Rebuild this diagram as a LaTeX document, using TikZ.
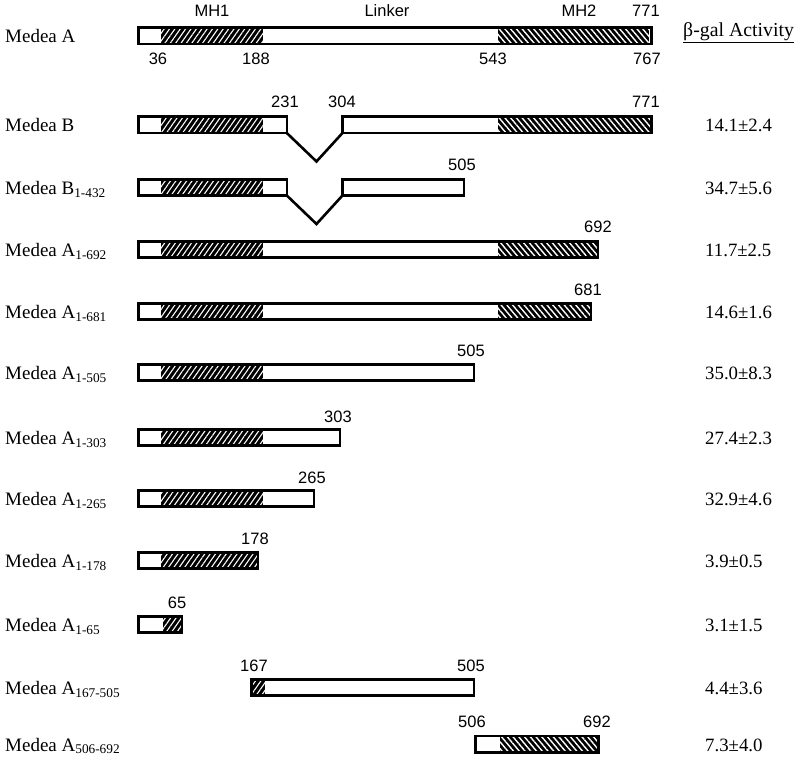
\documentclass[tikz,border=0pt]{standalone}
\usepackage{fontspec}
\setmainfont{Liberation Serif}
\newfontfamily\helv{Liberation Sans}
\usetikzlibrary{patterns.meta}
\newcommand\hatchA[3]{\fill[black] (#2,#1-8.2) rectangle (#3,#1+8.2); \fill[mhA] (#2,#1-8.2) rectangle (#3,#1+8.2);}
\newcommand\hatchB[3]{\fill[black] (#2,#1-8.2) rectangle (#3,#1+8.2); \fill[mhB] (#2,#1-8.2) rectangle (#3,#1+8.2);}
\newcommand\boxout[3]{\draw[outl] (#2,#1-8.2) rectangle (#3,#1+8.2);}
\begin{document}
\begin{tikzpicture}[x=1pt,y=-1pt,
  outl/.style={line width=2.6pt,line join=miter},
  vline/.style={line width=2.6pt,line join=miter},
  mhA/.style={pattern={Lines[angle=55,distance=4.4pt,line width=1.1pt]},pattern color=white},
  mhB/.style={pattern={Lines[angle=-50,distance=4.4pt,line width=1.4pt]},pattern color=white},
  lab/.style={anchor=base west,inner sep=0pt,font=\fontsize{19}{21}\selectfont},
  val/.style={anchor=base west,inner sep=0pt,font=\fontsize{18.8}{21}\selectfont},
  num/.style={anchor=base,inner sep=0pt,font=\helv\fontsize{16.5}{18}\selectfont}]
\useasboundingbox[fill=white] (0,0) rectangle (800,762);

% ---- Medea A (row 36)
\hatchA{36}{161}{263}
\hatchB{36}{498}{651.7}
\draw[white,line width=1pt] (649,36-7) -- (649,36+7);
\boxout{36}{138.3}{651.7}
\node[lab] (lA) at (5,43) {Medea A};
\node[num] (tMH1) at (212,17) {MH1};
\node[num] (tLink) at (387,17) {Linker};
\node[num] (tMH2) at (579,17) {MH2};
\node[num] (n771a) at (646,17) {771};
\node[num] (n36) at (158,65) {36};
\node[num] (n188) at (256,65) {188};
\node[num] (n543) at (493,65) {543};
\node[num] (n767) at (647,65) {767};
\node[anchor=base west,inner sep=0pt,font=\fontsize{19.8}{21}\selectfont] (bgal) at (683,37) {\underline{β-gal Activity}};

% ---- Medea B (row 125)
\hatchA{125}{161}{263}
\boxout{125}{138.3}{287}
\hatchB{125}{498}{651.7}
\boxout{125}{342.3}{651.7}
\coordinate (vB1) at (287,133.2);
\coordinate (vB2) at (316.5,161.5);
\coordinate (vB3) at (342.3,133.2);
\draw[vline] (vB1) -- (vB2) -- (vB3);
\node[lab] (lB) at (5,132) {Medea B};
\node[num] (n231) at (285,108) {231};
\node[num] (n304) at (342,108) {304};
\node[num] (n771b) at (646,108) {771};
\node[val] (vB) at (705,132) {14.1±2.4};

% ---- Medea B1-432 (row 187.5)
\hatchA{187.5}{161}{263}
\boxout{187.5}{138.3}{287}
\boxout{187.5}{342.3}{464}
\coordinate (vC1) at (287,195.7);
\coordinate (vC2) at (316.5,224);
\coordinate (vC3) at (342.3,195.7);
\draw[vline] (vC1) -- (vC2) -- (vC3);
\node[lab] (lC) at (5,194.5) {Medea B\textsubscript{1-432}};
\node[num] (n505c) at (462,171) {505};
\node[val] (vC) at (705,194.5) {34.7±5.6};

% ---- Medea A1-692 (row 249.5)
\hatchA{249.5}{161}{263}
\hatchB{249.5}{498}{598}
\boxout{249.5}{138.3}{598}
\node[lab] (lD) at (5,256.5) {Medea A\textsubscript{1-692}};
\node[num] (n692d) at (598,233) {692};
\node[val] (vD) at (705,256.5) {11.7±2.5};

% ---- Medea A1-681 (row 311.5)
\hatchA{311.5}{161}{263}
\hatchB{311.5}{498}{591}
\boxout{311.5}{138.3}{591}
\node[lab] (lE) at (5,318.5) {Medea A\textsubscript{1-681}};
\node[num] (n681) at (588,295) {681};
\node[val] (vE) at (705,318.5) {14.6±1.6};

% ---- Medea A1-505 (row 372.5)
\hatchA{372.5}{161}{263}
\boxout{372.5}{138.3}{474}
\node[lab] (lF) at (5,379.5) {Medea A\textsubscript{1-505}};
\node[num] (n505f) at (471,356) {505};
\node[val] (vF) at (705,379.5) {35.0±8.3};

% ---- Medea A1-303 (row 437.5)
\hatchA{437.5}{161}{263}
\boxout{437.5}{138.3}{340}
\node[lab] (lG) at (5,444.5) {Medea A\textsubscript{1-303}};
\node[num] (n303) at (338,422) {303};
\node[val] (vG) at (705,444.5) {27.4±2.3};

% ---- Medea A1-265 (row 498.5)
\hatchA{498.5}{161}{263}
\boxout{498.5}{138.3}{314}
\node[lab] (lH) at (5,505.5) {Medea A\textsubscript{1-265}};
\node[num] (n265) at (312,483) {265};
\node[val] (vH) at (705,505.5) {32.9±4.6};

% ---- Medea A1-178 (row 560.5)
\hatchA{560.5}{161}{258}
\boxout{560.5}{138.3}{258}
\node[lab] (lI) at (5,567.5) {Medea A\textsubscript{1-178}};
\node[num] (n178) at (255,544) {178};
\node[val] (vI) at (705,567.5) {3.9±0.5};

% ---- Medea A1-65 (row 624.5)
\hatchA{624.5}{163}{182}
\boxout{624.5}{138.3}{182}
\node[lab] (lJ) at (5,631.5) {Medea A\textsubscript{1-65}};
\node[num] (n65) at (177,608) {65};
\node[val] (vJ) at (705,631.5) {3.1±1.5};

% ---- Medea A167-505 (row 687.5)
\hatchA{687.5}{251.3}{265}
\boxout{687.5}{251.3}{474}
\node[lab] (lK) at (5,694.5) {Medea A\textsubscript{167-505}};
\node[num] (n167) at (254,671) {167};
\node[num] (n505k) at (471,671) {505};
\node[val] (vK) at (705,694.5) {4.4±3.6};

% ---- Medea A506-692 (row 744)
\hatchB{744}{500}{598.7}
\boxout{744}{475.3}{598.7}
\node[lab] (lL) at (5,751) {Medea A\textsubscript{506-692}};
\node[num] (n506) at (472,727.5) {506};
\node[num] (n692l) at (597,727.5) {692};
\node[val] (vL) at (705,751) {7.3±4.0};
\end{tikzpicture}
\end{document}
